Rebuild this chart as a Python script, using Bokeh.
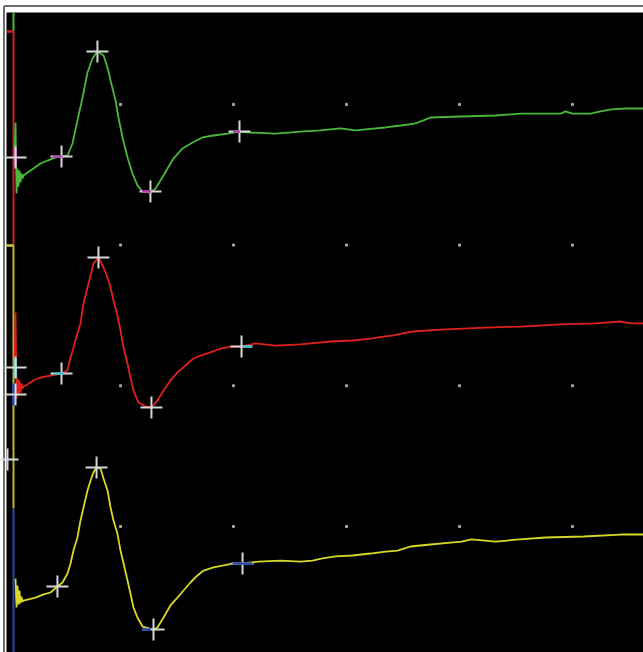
from bokeh.plotting import figure
from bokeh.models import Range1d, ColumnDataSource
from bokeh.embed import file_html
from bokeh.resources import INLINE

# Latency in ms (1 division = 1 ms), amplitude in mV (1 division = 1 mV)
green_t = [0.062, 0.071, 0.080, 0.088, 0.097, 0.106, 0.115, 0.124, 0.133, 0.142,
           0.177, 0.230, 0.292, 0.354, 0.425, 0.478, 0.531, 0.575, 0.619, 0.664,
           0.708, 0.752, 0.796, 0.850, 0.885, 0.912, 0.956, 0.982, 1.018, 1.062,
           1.106, 1.150, 1.195, 1.265, 1.310, 1.354, 1.416, 1.469, 1.549, 1.637,
           1.726, 1.823, 1.947, 2.053, 2.150, 2.372, 2.593, 2.770, 2.947, 3.080,
           3.168, 3.345, 3.478, 3.602, 3.681, 3.743, 4.009, 4.319, 4.540, 4.894,
           4.938, 5.000, 5.159, 5.248, 5.345, 5.469, 5.628]
green_v = [2.615, 2.871, 2.367, 2.544, 2.416, 2.530, 2.445, 2.509, 2.473, 2.495,
           2.516, 2.544, 2.580, 2.601, 2.623, 2.630, 2.637, 2.722, 2.886, 3.049,
           3.227, 3.326, 3.376, 3.348, 3.262, 3.170, 3.028, 2.907, 2.765, 2.623,
           2.509, 2.424, 2.381, 2.374, 2.402, 2.459, 2.544, 2.615, 2.687, 2.729,
           2.765, 2.779, 2.793, 2.807, 2.800, 2.793, 2.807, 2.815, 2.829, 2.815,
           2.822, 2.836, 2.850, 2.864, 2.886, 2.907, 2.914, 2.921, 2.935, 2.935,
           2.950, 2.935, 2.935, 2.950, 2.964, 2.971, 2.971]

red_t = [0.062, 0.071, 0.080, 0.088, 0.097, 0.106, 0.115, 0.124, 0.133, 0.142,
         0.177, 0.230, 0.292, 0.381, 0.478, 0.531, 0.558, 0.584, 0.619, 0.646,
         0.673, 0.708, 0.735, 0.761, 0.805, 0.850, 0.885, 0.912, 0.938, 0.973,
         1.000, 1.027, 1.062, 1.088, 1.115, 1.159, 1.221, 1.274, 1.327, 1.381,
         1.442, 1.504, 1.575, 1.646, 1.708, 1.796, 1.885, 1.973, 2.071, 2.195,
         2.372, 2.593, 2.858, 3.053, 3.212, 3.327, 3.416, 3.496, 3.584, 3.832,
         4.230, 4.540, 4.894, 5.204, 5.425, 5.513, 5.628]
red_v = [1.095, 1.521, 0.910, 1.052, 0.931, 1.038, 0.952, 1.016, 0.981, 0.995,
         1.009, 1.038, 1.059, 1.073, 1.087, 1.109, 1.201, 1.272, 1.372, 1.443,
         1.585, 1.699, 1.784, 1.869, 1.912, 1.841, 1.770, 1.699, 1.606, 1.500,
         1.393, 1.272, 1.158, 1.059, 0.967, 0.881, 0.853, 0.846, 0.896, 0.967,
         1.038, 1.095, 1.144, 1.194, 1.215, 1.237, 1.265, 1.279, 1.279,
         1.301, 1.286, 1.294, 1.315, 1.322, 1.336, 1.350, 1.358, 1.372, 1.386,
         1.400, 1.414, 1.421, 1.436, 1.443, 1.457, 1.443, 1.443]

yellow_t = [0.071, 0.080, 0.088, 0.097, 0.106, 0.115, 0.124, 0.133, 0.142, 0.177,
            0.248, 0.319, 0.381, 0.442, 0.487, 0.531, 0.558, 0.584, 0.619, 0.646,
            0.673, 0.708, 0.735, 0.761, 0.788, 0.823, 0.850, 0.885, 0.912, 0.938,
            0.973, 1.000, 1.027, 1.062, 1.088, 1.115, 1.150, 1.195, 1.292, 1.327,
            1.381, 1.442, 1.504, 1.558, 1.619, 1.681, 1.735, 1.823, 1.912, 1.991,
            2.080, 2.221, 2.416, 2.593, 2.699, 2.788, 2.903, 3.053, 3.212, 3.345,
            3.451, 3.513, 3.566, 3.743, 3.920, 4.018, 4.106, 4.319, 4.531, 4.761,
            5.097, 5.425, 5.628]
yellow_v = [-0.370, -0.576, -0.419, -0.554, -0.455, -0.547, -0.498, -0.533, -0.526, -0.519,
            -0.505, -0.483, -0.469, -0.426, -0.398, -0.334, -0.263, -0.171, -0.078, 0.043,
            0.135, 0.256, 0.327, 0.384, 0.419, 0.412, 0.341, 0.256, 0.135, 0.043,
            -0.050, -0.171, -0.263, -0.384, -0.476, -0.576, -0.647, -0.711, -0.732, -0.718,
            -0.647, -0.561, -0.505, -0.455, -0.398, -0.348, -0.313, -0.291, -0.277, -0.263,
            -0.263, -0.249, -0.242, -0.249, -0.242, -0.227, -0.213, -0.206, -0.192, -0.178,
            -0.171, -0.156, -0.142, -0.128, -0.114, -0.107, -0.092, -0.107, -0.092, -0.078,
            -0.071, -0.057, -0.057]

# Cursor marks (onset, peak, trough, end) for each trace
cursor_t = [0.071, 0.478, 0.796, 1.265, 2.053,
            0.071, 0.071, 0.478, 0.805, 1.274, 2.071,
            0.000, 0.442, 0.788, 1.292, 2.080]
cursor_v = [2.623, 2.630, 3.376, 2.381, 2.807,
            1.130, 0.938, 1.087, 1.912, 0.846, 1.279,
            0.476, -0.426, 0.419, -0.732, -0.263]

# Coloured cursor flags
flag_t = [0.442, 1.230, 2.027, 0.451, 2.124, 1.230, 2.080]
flag_v = [2.630, 2.381, 2.807, 1.087, 1.279, -0.732, -0.263]
flag_c = ["#b040b0", "#b040b0", "#b040b0", "#40c0c8", "#40c0c8", "#2848a8", "#2848a8"]
flag_s = [10, 9, 7, 10, 9, 9, 20]

# Screen window (time / amplitude extent of the display)
screen_t0, screen_t1 = -0.00885, 5.628
screen_v0, screen_v1 = -0.8955, 3.653

# Channel position markers on the left edge
chan_t = 0.053
chan_top = [screen_v1, 3.518, 1.997, 0.128]
chan_bot = [3.518, 1.997, 0.128, screen_v0]
chan_col = ["#4ab83a", "#c8202a", "#b8b830", "#2848a8"]
tick_v = [3.518, 1.997]
tick_col = ["#c8202a", "#d0d030"]

# Stimulus flags
stim_t = [0.071, 0.071, 0.053]
stim_v0 = [2.687, 1.194, 1.016]
stim_v1 = [2.566, 1.059, 0.860]
stim_c = ["#b040b0", "#40c0c8", "#2848a8"]

grid_t = [1, 2, 3, 4, 5]
grid_v = [0, 1, 2, 3]

# Window frame of the acquisition screen
frame_t = -0.031
frame_v = 3.699

p = figure(width=643, height=652, output_backend="svg", toolbar_location=None,
           x_range=Range1d(-0.06195, 5.6283), y_range=Range1d(screen_v0, 3.7385),
           x_axis_location=None, y_axis_location=None,
           min_border=0, min_border_top=0, min_border_left=0, min_border_right=0,
           min_border_bottom=0,
           background_fill_color="white", border_fill_color="white",
           outline_line_color=None)
p.grid.visible = False

# frame lines and black screen
p.segment(x0=[frame_t, frame_t], y0=[frame_v, frame_v], x1=[frame_t, 6.0], y1=[-1.0, frame_v],
          line_color="#6e6e6e", line_width=2)
p.quad(left=[screen_t0], right=[6.0], bottom=[-1.0], top=[screen_v1],
       fill_color="black", line_color=None)

gx = [t for v in grid_v for t in grid_t]
gy = [v for v in grid_v for t in grid_t]
p.scatter(gx, gy, marker="square", size=2, color="#a8a8a8")

p.segment(x0=[chan_t] * 4, y0=chan_top, x1=[chan_t] * 4, y1=chan_bot,
          line_color=chan_col, line_width=2)
p.segment(x0=[screen_t0] * 2, y0=tick_v, x1=[chan_t] * 2, y1=tick_v,
          line_color=tick_col, line_width=2.5)

p.line(green_t, green_v, line_color="#4ab83a", line_width=1.8)
p.line(red_t, red_v, line_color="#e0201e", line_width=1.8)
p.line(yellow_t, yellow_v, line_color="#d8d828", line_width=1.8)

p.segment(x0=stim_t, y0=stim_v0, x1=stim_t, y1=stim_v1, line_color=stim_c, line_width=3)

p.scatter(cursor_t, cursor_v, marker="cross", size=22, line_color="#d8d8d8", line_width=2)

fsrc = ColumnDataSource(dict(t=flag_t, v=flag_v, c=flag_c, s=flag_s))
p.scatter("t", "v", source=fsrc, marker="dash", size="s", line_color="c", line_width=2.5)

open("out.html", "w").write(file_html(p, INLINE))
